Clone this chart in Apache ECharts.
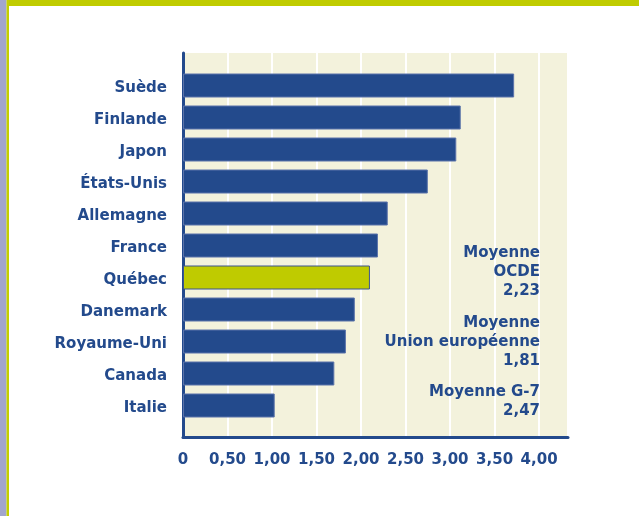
<!DOCTYPE html>
<html>
<head>
<meta charset="utf-8">
<script src="https://cdn.jsdelivr.net/npm/echarts@6/dist/echarts.min.js"></script>
<style>
html,body{margin:0;padding:0;background:#ffffff;}
#chart{width:639px;height:516px;}
</style>
</head>
<body>
<div id="chart"></div>
<script>
var categories = ['Suède','Finlande','Japon','États-Unis','Allemagne','France','Québec','Danemark','Royaume-Uni','Canada','Italie'];
var values = [3.72, 3.12, 3.07, 2.75, 2.30, 2.19, 2.10, 1.93, 1.83, 1.70, 1.03];
var highlight = 'Québec';
var xTicks = [0, 0.5, 1, 1.5, 2, 2.5, 3, 3.5, 4];
var avgLabels = ['Moyenne\nOCDE', 'Moyenne\nUnion européenne', 'Moyenne G-7'];
var avgValues = [2.23, 1.81, 2.47];

var BLUE = '#234a8c';
var GREEN = '#bfcb00';
var BG = '#f3f2dc';
var FONT = '"DejaVu Sans", sans-serif';

function fr(v){ return v === 0 ? '0' : v.toFixed(2).replace('.', ','); }

var chart = echarts.init(document.getElementById('chart'), null, {renderer:'canvas'});

var avgTops = [243.5, 313.5, 382.5];
var graphics = [
  {type:'rect', shape:{x:0,y:0,width:6.5,height:516}, style:{fill:'#a2a6cc'}, silent:true},
  {type:'rect', shape:{x:6.5,y:0,width:2.5,height:516}, style:{fill:'#c4cf00'}, silent:true},
  {type:'rect', shape:{x:9,y:0,width:630,height:6}, style:{fill:'#c0cc00'}, silent:true}
];
avgLabels.forEach(function(l, i){
  graphics.push({
    type:'text', z:10, silent:true,
    style:{
      text: l + '\n' + fr(avgValues[i]),
      x: 540, y: avgTops[i],
      textAlign:'right', textVerticalAlign:'top',
      font: 'bold 15px ' + FONT,
      lineHeight: 19,
      fill: BLUE
    }
  });
});

var option = {
  animation:false,
  backgroundColor:'#ffffff',
  graphic: graphics,
  grid:[
    {left:183, right:71, top:53, bottom:79, show:true, backgroundColor:BG, borderWidth:0},
    {left:183, right:71, top:69.5, height:352}
  ],
  xAxis:[
    {
      gridIndex:0, type:'value', min:0, max:4.325, interval:0.5,
      axisLine:{show:true, lineStyle:{color:BLUE, width:3}},
      axisTick:{show:false},
      splitLine:{show:true, lineStyle:{color:'#ffffff', width:2}},
      axisLabel:{
        margin:16, color:BLUE, fontFamily:FONT, fontWeight:'bold', fontSize:15,
        showMaxLabel:false,
        formatter:function(v){
          for (var i=0;i<xTicks.length;i++){ if (Math.abs(xTicks[i]-v)<1e-6) return fr(xTicks[i]); }
          return '';
        }
      }
    },
    {
      gridIndex:1, type:'value', min:0, max:4.325, interval:0.5, show:false
    }
  ],
  yAxis:[
    {
      gridIndex:0, type:'value', min:0, max:1,
      axisLine:{show:true, lineStyle:{color:BLUE, width:3}},
      axisTick:{show:false}, axisLabel:{show:false}, splitLine:{show:false}
    },
    {
      gridIndex:1, type:'category', inverse:true, data:categories,
      axisLine:{show:false}, axisTick:{show:false},
      axisLabel:{
        margin:16, color:BLUE, fontFamily:FONT, fontWeight:'bold', fontSize:15,
        formatter:function(v){ return '{c|' + v + '}'; },
        rich:{c:{color:BLUE, fontFamily:FONT, fontWeight:'bold', fontSize:15, padding:[5,0,0,0]}}
      }
    }
  ],
  series:[
    {
      type:'bar', xAxisIndex:1, yAxisIndex:1, barWidth:24,
      data: values.map(function(v, i){
        return {
          value: v,
          itemStyle: categories[i] === highlight
            ? {color:GREEN, borderColor:'#3d5590', borderWidth:1}
            : {color:BLUE, borderColor:'#5b73aa', borderWidth:1}
        };
      })
    }
  ]
};
chart.setOption(option);
</script>
</body>
</html>
